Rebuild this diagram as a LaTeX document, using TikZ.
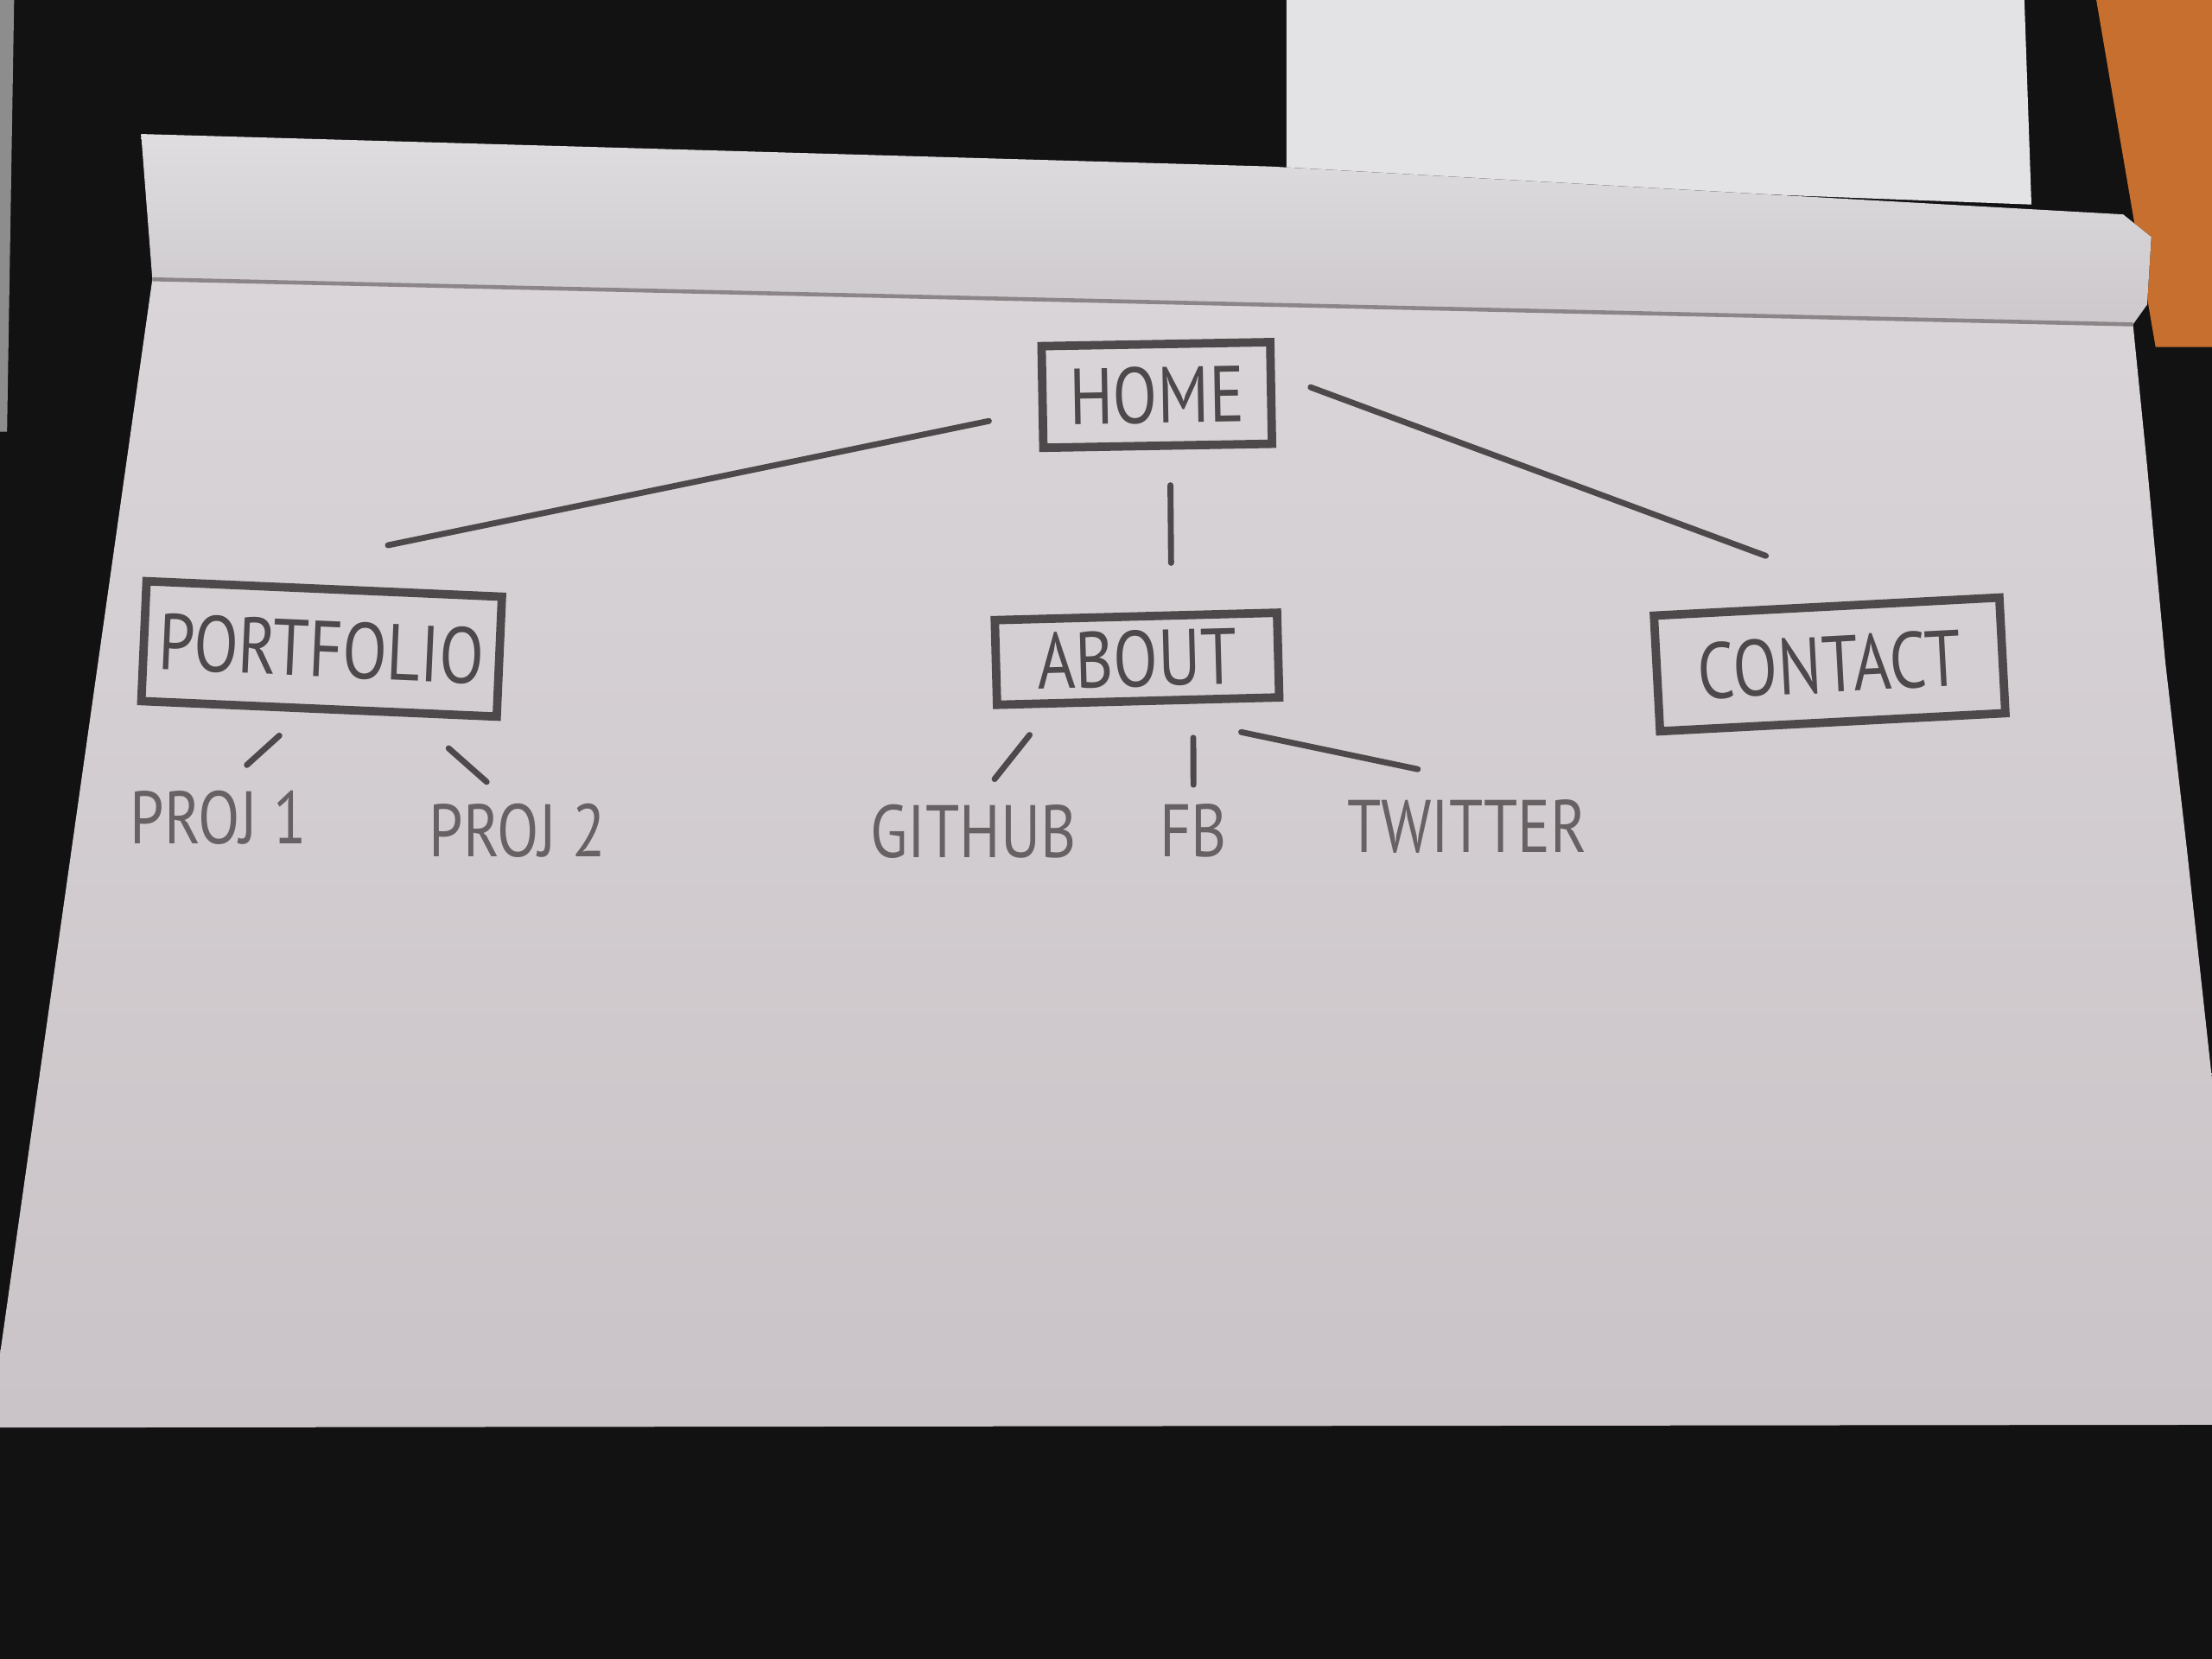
\documentclass[tikz,border=0pt]{standalone}
\usepackage{fontspec}
\newfontfamily\sketchfont[FakeStretch=0.82]{PT Sans}
\usetikzlibrary{calc}
\definecolor{TableBlack}{HTML}{131212}
\definecolor{PaperTop}{HTML}{D9D5D8}
\definecolor{PaperBottom}{HTML}{CAC3C7}
\definecolor{RollGrey}{HTML}{DFDDE0}
\definecolor{RollShade}{HTML}{CCC8CB}
\definecolor{RollShadow}{HTML}{8C8588}
\definecolor{NoteGrey}{HTML}{E3E3E6}
\definecolor{SideGrey}{HTML}{8E8D8D}
\definecolor{PencilOrange}{HTML}{C66F2E}
\definecolor{PencilDark}{HTML}{4D484A}
\definecolor{PencilLight}{HTML}{676163}

\begin{document}
\begin{tikzpicture}[x=0.01cm, y=0.01cm,
  pagebox/.style={draw=PencilDark, line width=1.7pt, inner sep=0pt,
    text=PencilDark, font=\sketchfont\fontsize{16}{16}\selectfont},
  leaf/.style={text=PencilLight, inner sep=0pt, text height=0.38cm,
    text depth=0pt, font=\sketchfont\fontsize{15}{15}\selectfont},
  link/.style={draw=PencilDark, line width=1.2pt, line cap=round}]
  \useasboundingbox (0,0) rectangle (1568,1176);

  % table, note, pencil
  \fill[TableBlack] (0,0) rectangle (1568,1176);
  \fill[SideGrey] (0,1176) -- (10,1176) -- (5,870) -- (0,870) -- cycle;
  \fill[NoteGrey] (912,1176) -- (1435,1176) -- (1440,1031) -- (912,1051) -- cycle;
  \fill[PencilOrange] (1486,1176) -- (1568,1176) -- (1568,930) -- (1528,930) -- cycle;

  % sheet of paper and its rolled top
  \fill[top color=PaperTop, bottom color=PaperBottom]
    (108,978) -- (1512,946) -- (1522,846) -- (1535,706) -- (1550,576)
    -- (1568,411) -- (1568,166) -- (0,164) -- (0,216) -- cycle;
  \fill[top color=RollGrey, bottom color=RollShade]
    (100,1081) -- (900,1058) -- (1505,1024) -- (1525,1008) -- (1522,960)
    -- (1512,946) -- (108,978) -- cycle;
  \draw[RollShadow, line width=0.8pt] (108,978) -- (1512,946);

  % pages
  \node[pagebox, minimum width=1.62cm, minimum height=0.72cm, rotate=1]
    (home) at (820,896) {HOME};
  \node[pagebox, minimum width=2.52cm, minimum height=0.85cm, rotate=-2.5]
    (portfolio) at (228,716) {PORTFOLIO};
  \node[pagebox, minimum width=2.0cm, minimum height=0.6cm, rotate=1.5]
    (about) at (806,709) {ABOUT};
  \node[pagebox, minimum width=2.45cm, minimum height=0.82cm, rotate=3]
    (contact) at (1297,705) {CONTACT};

  % sub pages
  \node[leaf] (proj1) at (155,597) {PROJ 1};
  \node[leaf] (proj2) at (367,588) {PROJ 2};
  \node[leaf] (github) at (690,587) {GITHUB};
  \node[leaf] (fb) at (846,588) {FB};
  \node[leaf] (twitter) at (1040,591) {TWITTER};

  % links
  \draw[link] ($(home.west)+(-35,-17)$) -- ($(portfolio.north)+(45,28)$);
  \draw[link] ($(home.south)+(9,-25)$) -- ($(about.north)+(25,35)$);
  \draw[link] ($(home.east)+(25,4)$) -- ($(contact.north)+(-43,33)$);
  \draw[link] ($(portfolio.south)+(-28,-16)$) -- ($(proj1.north)+(20,17)$);
  \draw[link] ($(portfolio.south)+(92,-25)$) -- ($(proj2.north)+(-22,14)$);
  \draw[link] ($(about.south)+(-77,-21)$) -- ($(github.north)+(15,17)$);
  \draw[link] ($(about.south)+(39,-23)$) -- ($(fb.north)+(0,12)$);
  \draw[link] ($(about.south)+(73,-19)$) -- ($(twitter.north)+(-35,20)$);
\end{tikzpicture}
\end{document}
